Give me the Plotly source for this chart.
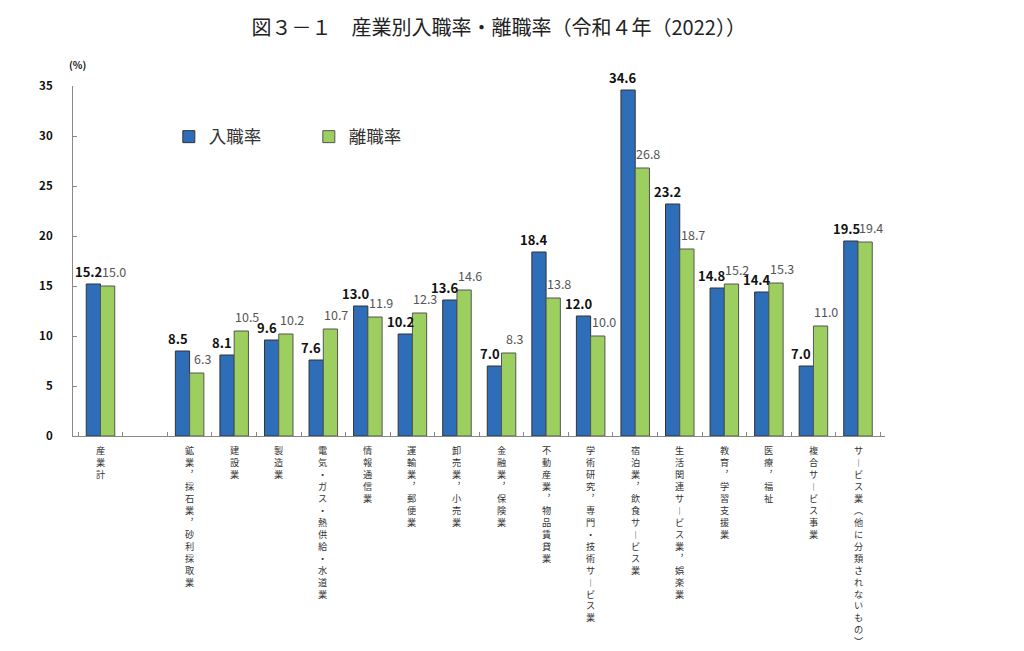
import plotly.graph_objects as go

categories = ["産業計", " ", "鉱業，採石業，砂利採取業", "建設業", "製造業",
              "電気・ガス・熱供給・水道業", "情報通信業", "運輸業，郵便業",
              "卸売業，小売業", "金融業，保険業", "不動産業，物品賃貸業",
              "学術研究，専門・技術サービス業", "宿泊業，飲食サービス業",
              "生活関連サービス業，娯楽業", "教育，学習支援業", "医療，福祉",
              "複合サービス事業", "サービス業（他に分類されないもの）"]
entry_rate = [15.2, None, 8.5, 8.1, 9.6, 7.6, 13.0, 10.2, 13.6, 7.0, 18.4,
              12.0, 34.6, 23.2, 14.8, 14.4, 7.0, 19.5]
exit_rate = [15.0, None, 6.3, 10.5, 10.2, 10.7, 11.9, 12.3, 14.6, 8.3, 13.8,
             10.0, 26.8, 18.7, 15.2, 15.3, 11.0, 19.4]
y_ticks = [0, 5, 10, 15, 20, 25, 30, 35]

FONT = "Noto Sans CJK JP"
VMAP = {"，": "︐", "ー": "︱", "（": "︵", "）": "︶"}


def vertical(s):
    return "<br>".join(VMAP.get(c, c) for c in s.strip())


fig = go.Figure()
fig.add_trace(go.Bar(
    x=categories, y=entry_rate, name="入職率",
    marker=dict(color="#2E6DB8", line=dict(color="#333333", width=1)),
))
fig.add_trace(go.Bar(
    x=categories, y=exit_rate, name="離職率",
    marker=dict(color="#9DCF60", line=dict(color="#555555", width=1)),
))

# value labels: entry labels nudged left of the blue bar, exit labels right of the green bar
for c, v in zip(categories, entry_rate):
    if v is not None:
        fig.add_annotation(x=c, y=v, xref="x", yref="y", text=f"{v:.1f}",
                           showarrow=False, yanchor="bottom", xshift=-12, yshift=1,
                           font=dict(family=FONT, size=13, color="#111111", weight="bold"))
for c, v in zip(categories, exit_rate):
    if v is not None:
        fig.add_annotation(x=c, y=v, xref="x", yref="y", text=f"{v:.1f}",
                           showarrow=False, yanchor="bottom", xshift=13, yshift=3,
                           font=dict(family=FONT, size=12.5, color="#555555"))

for c in categories:
    if c.strip():
        fig.add_annotation(x=c, y=0, xref="x", yref="y", text=vertical(c),
                           showarrow=False, yanchor="top", yshift=-5,
                           font=dict(family=FONT, size=9.2, color="#333333"))

fig.add_annotation(x=0.005, y=1.035, xref="paper", yref="paper", text="(%)",
                   showarrow=False, xanchor="center", yanchor="bottom",
                   font=dict(family=FONT, size=10, color="#111111", weight="bold"))

fig.update_layout(
    width=1016, height=643,
    margin=dict(l=65, r=139, t=78, b=215),
    paper_bgcolor="white", plot_bgcolor="white",
    title=dict(text="図３－１　産業別入職率・離職率（令和４年（2022））",
               x=0.483, xanchor="center", y=0.969, yanchor="middle",
               font=dict(family=FONT, size=20, color="#222222")),
    barmode="group", bargap=0.36, bargroupgap=0,
    showlegend=True,
    legend=dict(orientation="h", x=0.118, y=0.855, xanchor="left", yanchor="middle",
                entrywidth=95, entrywidthmode="pixels",
                font=dict(family=FONT, size=17.5, color="#333333"),
                bgcolor="rgba(0,0,0,0)"),
)
fig.update_xaxes(type="category", showticklabels=False, showline=True,
                 linecolor="#888888", linewidth=1, ticks="inside",
                 tickson="boundaries", ticklen=4, tickcolor="#888888",
                 showgrid=False, zeroline=False)
fig.update_yaxes(range=[0, 35], tickvals=y_ticks, showline=True,
                 linecolor="#888888", linewidth=1, ticks="inside", ticklen=4,
                 tickcolor="#888888", showgrid=False, zeroline=False,
                 tickfont=dict(family=FONT, size=11.5, color="#111111", weight="bold"),
                 ticklabelstandoff=17)

fig.write_html("out.html")
